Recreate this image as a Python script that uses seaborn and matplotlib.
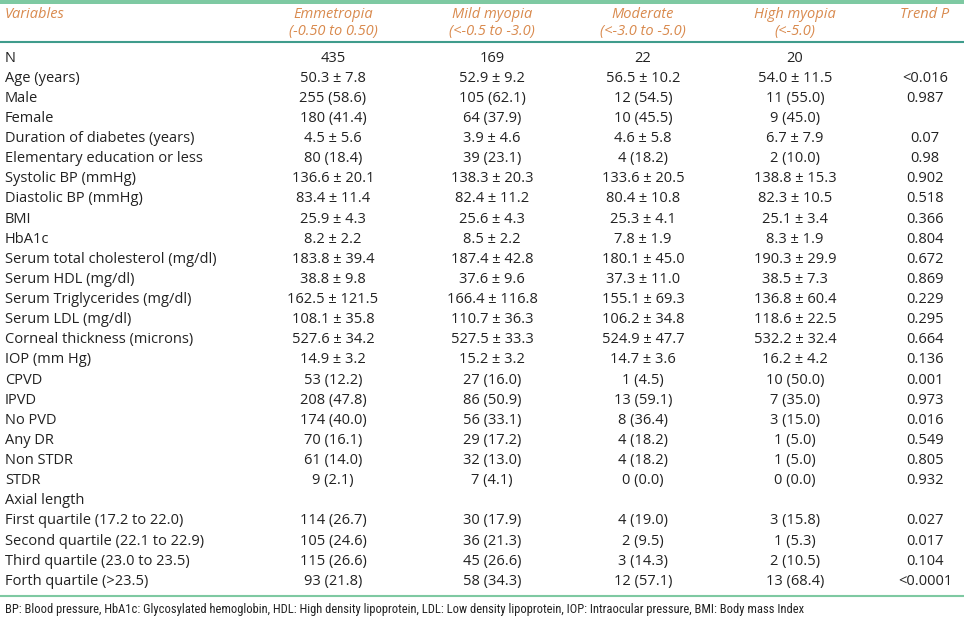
import matplotlib
matplotlib.use("Agg")
import matplotlib.pyplot as plt
from matplotlib import font_manager
import seaborn as sns

# ── Table content ──────────────────────────────────────────────────────────
headers = ["Variables", "Emmetropia\n(-0.50 to 0.50)", "Mild myopia\n(<-0.5 to -3.0)",
           "Moderate\n(<-3.0 to -5.0)", "High myopia\n(<-5.0)", "Trend P"]

variables = [
    "N", "Age (years)", "Male", "Female", "Duration of diabetes (years)",
    "Elementary education or less", "Systolic BP (mmHg)", "Diastolic BP (mmHg)",
    "BMI", "HbA1c", "Serum total cholesterol (mg/dl)", "Serum HDL (mg/dl)",
    "Serum Triglycerides (mg/dl)", "Serum LDL (mg/dl)", "Corneal thickness (microns)",
    "IOP (mm Hg)", "CPVD", "IPVD", "No PVD", "Any DR", "Non STDR", "STDR",
    "Axial length", "First quartile (17.2 to 22.0)", "Second quartile (22.1 to 22.9)",
    "Third quartile (23.0 to 23.5)", "Forth quartile (>23.5)",
]

emmetropia = [
    "435", "50.3 ± 7.8", "255 (58.6)", "180 (41.4)", "4.5 ± 5.6", "80 (18.4)",
    "136.6 ± 20.1", "83.4 ± 11.4", "25.9 ± 4.3", "8.2 ± 2.2", "183.8 ± 39.4",
    "38.8 ± 9.8", "162.5 ± 121.5", "108.1 ± 35.8", "527.6 ± 34.2", "14.9 ± 3.2",
    "53 (12.2)", "208 (47.8)", "174 (40.0)", "70 (16.1)", "61 (14.0)", "9 (2.1)",
    "", "114 (26.7)", "105 (24.6)", "115 (26.6)", "93 (21.8)",
]

mild_myopia = [
    "169", "52.9 ± 9.2", "105 (62.1)", "64 (37.9)", "3.9 ± 4.6", "39 (23.1)",
    "138.3 ± 20.3", "82.4 ± 11.2", "25.6 ± 4.3", "8.5 ± 2.2", "187.4 ± 42.8",
    "37.6 ± 9.6", "166.4 ± 116.8", "110.7 ± 36.3", "527.5 ± 33.3", "15.2 ± 3.2",
    "27 (16.0)", "86 (50.9)", "56 (33.1)", "29 (17.2)", "32 (13.0)", "7 (4.1)",
    "", "30 (17.9)", "36 (21.3)", "45 (26.6)", "58 (34.3)",
]

moderate = [
    "22", "56.5 ± 10.2", "12 (54.5)", "10 (45.5)", "4.6 ± 5.8", "4 (18.2)",
    "133.6 ± 20.5", "80.4 ± 10.8", "25.3 ± 4.1", "7.8 ± 1.9", "180.1 ± 45.0",
    "37.3 ± 11.0", "155.1 ± 69.3", "106.2 ± 34.8", "524.9 ± 47.7", "14.7 ± 3.6",
    "1 (4.5)", "13 (59.1)", "8 (36.4)", "4 (18.2)", "4 (18.2)", "0 (0.0)",
    "", "4 (19.0)", "2 (9.5)", "3 (14.3)", "12 (57.1)",
]

high_myopia = [
    "20", "54.0 ± 11.5", "11 (55.0)", "9 (45.0)", "6.7 ± 7.9", "2 (10.0)",
    "138.8 ± 15.3", "82.3 ± 10.5", "25.1 ± 3.4", "8.3 ± 1.9", "190.3 ± 29.9",
    "38.5 ± 7.3", "136.8 ± 60.4", "118.6 ± 22.5", "532.2 ± 32.4", "16.2 ± 4.2",
    "10 (50.0)", "7 (35.0)", "3 (15.0)", "1 (5.0)", "1 (5.0)", "0 (0.0)",
    "", "3 (15.8)", "1 (5.3)", "2 (10.5)", "13 (68.4)",
]

trend_p = [
    "", "<0.016", "0.987", "", "0.07", "0.98", "0.902", "0.518", "0.366", "0.804",
    "0.672", "0.869", "0.229", "0.295", "0.664", "0.136", "0.001", "0.973", "0.016",
    "0.549", "0.805", "0.932", "", "0.027", "0.017", "0.104", "<0.0001",
]

footnote = ("BP: Blood pressure, HbA1c: Glycosylated hemoglobin, HDL: High density lipoprotein, "
            "LDL: Low density lipoprotein, IOP: Intraocular pressure, BMI: Body mass Index")

# ── Style ──────────────────────────────────────────────────────────────────
sns.set_theme(style="white")
plt.rcParams["font.family"] = ["Open Sans", "DejaVu Sans"]

installed = {f.name for f in font_manager.fontManager.ttflist}
narrow = next((f for f in ["Liberation Sans Narrow", "DejaVu Sans Condensed",
                           "Roboto Condensed", "Open Sans Condensed"] if f in installed),
              "Open Sans")

GREEN = "#7ec9a2"
TEAL = "#3f9c8c"
ORANGE = "#d98a4e"
TEXT = "#222222"
FS = 10.5

W, H = 964, 621
fig = plt.figure(figsize=(W / 100, H / 100), dpi=100)
ax = fig.add_axes([0, 0, 1, 1])
ax.set_xlim(0, W)
ax.set_ylim(H, 0)
ax.axis("off")

# rules
ax.axhspan(0, 4, color=GREEN, lw=0)
ax.axhline(42, color=TEAL, lw=1.5)
ax.axhline(596, color=GREEN, lw=1.5)

col_x = [5, 333, 492, 643, 795, 925]
body_cols = [emmetropia, mild_myopia, moderate, high_myopia, trend_p]

# header
for i, h in enumerate(headers):
    ha = "left" if i == 0 else "center"
    for j, line in enumerate(h.split("\n")):
        ax.text(col_x[i], 14 + 18 * j, line, ha=ha, va="center",
                color=ORANGE, style="italic", fontsize=FS)

# body rows
y0, dy = 58, 20.13
for r, name in enumerate(variables):
    y = y0 + r * dy
    ax.text(col_x[0], y, name, ha="left", va="center", color=TEXT, fontsize=FS)
    for c, col in enumerate(body_cols):
        ax.text(col_x[c + 1], y, col[r], ha="center", va="center",
                color=TEXT, fontsize=FS)

# footnote: shrink to the reference width (~842 px)
note = ax.text(5, 609, footnote, ha="left", va="center", color=TEXT,
               fontsize=9, family=narrow)
renderer = fig.canvas.get_renderer()
width = note.get_window_extent(renderer).width
if width > 842:
    note.set_fontsize(9 * 842 / width)

fig.savefig("out.png", dpi=100)
plt.close(fig)
